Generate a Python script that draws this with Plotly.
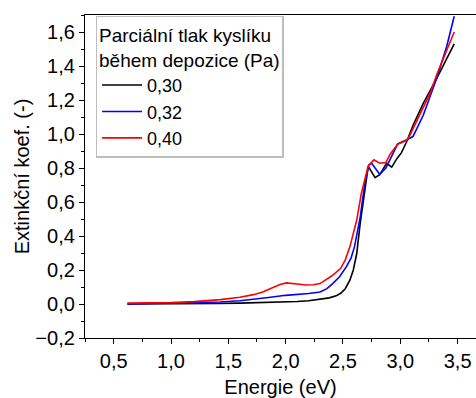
import plotly.graph_objects as go

# Extinction coefficient vs. photon energy for three oxygen partial pressures
energy_030 = [0.62, 0.8, 1.0, 1.2, 1.4, 1.6, 1.8, 2.0, 2.1, 2.2, 2.3, 2.38, 2.44, 2.48,
              2.52, 2.56, 2.59, 2.62, 2.65, 2.69, 2.72, 2.78, 2.82, 2.88, 2.925, 2.97,
              3.01, 3.056, 3.11, 3.2, 3.32, 3.47]
k_030 = [0.0, 0.0, 0.001, 0.002, 0.003, 0.005, 0.008, 0.012, 0.015, 0.019, 0.026, 0.036,
         0.048, 0.063, 0.09, 0.14, 0.2, 0.297, 0.474, 0.67, 0.81, 0.743, 0.76, 0.828,
         0.805, 0.855, 0.89, 0.956, 1.05, 1.18, 1.33, 1.53]

energy_032 = [0.62, 0.8, 1.0, 1.2, 1.43, 1.6, 1.72, 1.85, 2.0, 2.1, 2.2, 2.3, 2.36, 2.41,
              2.47, 2.53, 2.57, 2.6, 2.65, 2.69, 2.726, 2.75, 2.82, 2.874, 2.977, 3.056,
              3.11, 3.2, 3.318, 3.405, 3.47]
k_032 = [0.0, 0.002, 0.004, 0.007, 0.012, 0.019, 0.026, 0.038, 0.051, 0.056, 0.062, 0.071,
         0.09, 0.12, 0.16, 0.22, 0.27, 0.336, 0.51, 0.71, 0.818, 0.828, 0.763, 0.80, 0.942,
         0.966, 0.985, 1.11, 1.33, 1.516, 1.693]

energy_040 = [0.62, 0.8, 1.0, 1.2, 1.43, 1.6, 1.72, 1.8, 1.89, 1.95, 2.007, 2.06, 2.12,
              2.18, 2.24, 2.3, 2.36, 2.41, 2.48, 2.52, 2.56, 2.59, 2.62, 2.66, 2.72, 2.77,
              2.82, 2.874, 2.91, 2.977, 3.056, 3.085, 3.26, 3.318, 3.47]
k_040 = [0.005, 0.006, 0.008, 0.014, 0.026, 0.04, 0.055, 0.07, 0.097, 0.115, 0.124, 0.122,
         0.116, 0.112, 0.113, 0.12, 0.145, 0.169, 0.21, 0.26, 0.336, 0.41, 0.494, 0.651,
         0.812, 0.848, 0.828, 0.832, 0.88, 0.94, 0.962, 0.995, 1.24, 1.35, 1.60]

series = [
    ("0,30", energy_030, k_030, "#000000"),
    ("0,32", energy_032, k_032, "#0000ff"),
    ("0,40", energy_040, k_040, "#ff0000"),
]

FONT = "Arial, Liberation Sans, sans-serif"
FS = 20

fig = go.Figure()
for name, xs, ys, color in series:
    fig.add_trace(go.Scatter(x=xs, y=ys, mode="lines", name=name,
                             line=dict(color=color, width=1.6)))

axis_common = dict(
    showline=True, linecolor="black", linewidth=1.3,
    ticks="outside", ticklen=5, tickwidth=1.2, tickcolor="black",
    showgrid=False, zeroline=False,
    tickfont=dict(family=FONT, size=FS, color="black"),
    tickformat=".1f",
)

fig.update_xaxes(
    range=[0.25, 3.66], dtick=0.5, tick0=0.5,
    mirror=True,
    minor=dict(ticks="outside", ticklen=3, tickwidth=1.2, tickcolor="black", dtick=0.25,
               tick0=0.25, showgrid=False),
    title=dict(text="Energie (eV)", font=dict(family=FONT, size=FS, color="black"),
               standoff=10),
    **axis_common,
)
fig.update_yaxes(
    range=[-0.2, 1.7], dtick=0.2, tick0=0,
    minor=dict(ticks="outside", ticklen=3, tickwidth=1.2, tickcolor="black", dtick=0.1,
               tick0=0, showgrid=False),
    title=dict(text="Extinkční koef. (-)", font=dict(family=FONT, size=FS, color="black"),
               standoff=0),
    **axis_common,
)

fig.update_layout(
    width=476, height=398,
    margin=dict(l=85, r=0, t=15, b=60, autoexpand=False),
    paper_bgcolor="white", plot_bgcolor="white",
    separators=",.",
    font=dict(family=FONT, size=FS, color="black"),
    legend=dict(
        title=dict(text="Parciální tlak kyslíku<br>během depozice (Pa)",
                   font=dict(family=FONT, size=19, color="black")),
        x=0.027, y=0.997, xanchor="left", yanchor="top",
        bordercolor="#bdbdbd", borderwidth=1.5, bgcolor="white",
        font=dict(family=FONT, size=18, color="black"),
        itemwidth=40, tracegroupgap=0,
    ),
)

fig.write_html("out.html")
